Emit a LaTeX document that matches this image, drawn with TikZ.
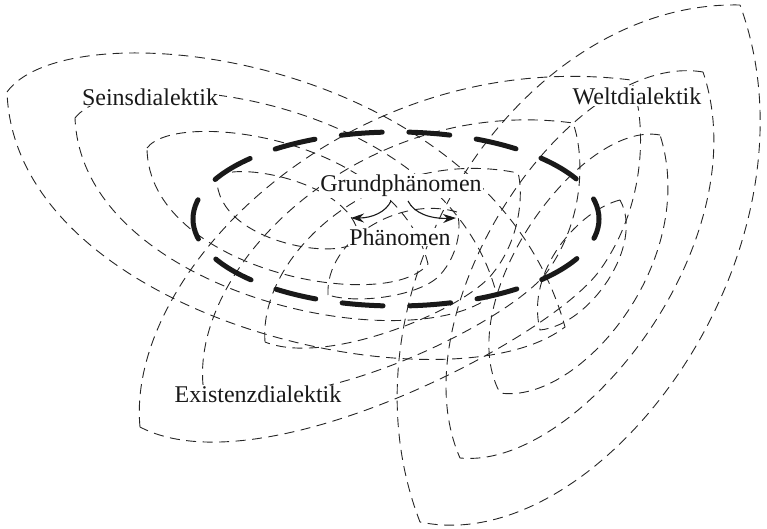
\documentclass[tikz,border=0pt]{standalone}
\usepackage{fontspec}
\setmainfont{Liberation Serif}
\usetikzlibrary{arrows.meta}
\begin{document}
\begin{tikzpicture}[x=1pt,y=-1pt,
  lens/.style={draw=black!85, line width=0.9pt, dash pattern=on 10pt off 6.5pt},
  bigloop/.style={draw=black!90, line width=5pt, line cap=round, dash pattern=on 41pt off 26.7pt, dash phase=20pt},
  lbl/.style={fill=white, inner sep=1pt, text=black!90, font=\fontsize{24}{27}\selectfont},
  arr/.style={draw=black!90, line width=1.1pt, -{Stealth[length=13pt,width=9pt]}}]
\useasboundingbox (0,0) rectangle (767,529);
% Seinsdialektik lenses
\draw[lens] (7,92) .. controls (70,5) and (490,55) .. (565,327) .. controls (450,415) and (15,320) .. (7,92);
\draw[lens] (75,118) .. controls (123,57) and (443,97) .. (496,292) .. controls (418,365) and (82,295) .. (75,118);
\draw[lens] (147,148) .. controls (177,108) and (397,138) .. (428,264) .. controls (387,315) and (148,270) .. (147,148);
\draw[lens] (217,178) .. controls (230,160) and (350,180) .. (359,236) .. controls (355,265) and (215,245) .. (217,178);
% Weltdialektik lenses
\draw[lens] (740,5) .. controls (520,0) and (330,290) .. (420,522) .. controls (600,560) and (830,250) .. (740,5);
\draw[lens] (703,72) .. controls (570,50) and (395,310) .. (460,458) .. controls (580,470) and (760,240) .. (703,72);
\draw[lens] (660,135) .. controls (580,120) and (450,300) .. (500,393) .. controls (580,405) and (700,260) .. (660,135);
\draw[lens] (620,200) .. controls (580,210) and (525,270) .. (540,330) .. controls (590,325) and (645,245) .. (620,200);
% Existenzdialektik lenses
\draw[lens] (140,427) .. controls (125,270) and (350,45) .. (631,80) .. controls (645,115) and (650,200) .. (600,270) .. controls (550,340) and (260,490) .. (140,427);
\draw[lens] (203,385) .. controls (192,260) and (367,95) .. (573,123) .. controls (584,153) and (586,218) .. (547,272) .. controls (507,325) and (293,428) .. (203,385);
\draw[lens] (265,342) .. controls (258,250) and (383,145) .. (518,173) .. controls (523,190) and (522,237) .. (493,273) .. controls (465,310) and (327,367) .. (265,342);
\draw[lens] (328,295) .. controls (325,240) and (400,195) .. (457,212) .. controls (462,228) and (458,255) .. (440,275) .. controls (422,295) and (360,305) .. (328,295);
% central thick dashed loop
\draw[bigloop] (396,219) ellipse [x radius=203pt, y radius=87pt];
% labels
\node[lbl] (seins) at (150,97) {Seinsdialektik};
\node[lbl] (welt) at (637,96) {Weltdialektik};
\node[lbl] (exist) at (258,394) {Existenzdialektik};
\node[lbl] (grund) at (401,186) {Grundphänomen};
\node[lbl] (phaen) at (400,237) {Phänomen};
% arrows
\coordinate (a1s) at (391,201);
\coordinate (a1e) at (351,218);
\coordinate (a2s) at (408,201);
\coordinate (a2e) at (456,218);
\draw[arr] (a1s) .. controls (386,212) and (372,218) .. (a1e);
\draw[arr] (a2s) .. controls (414,213) and (430,219) .. (a2e);
\end{tikzpicture}
\end{document}
